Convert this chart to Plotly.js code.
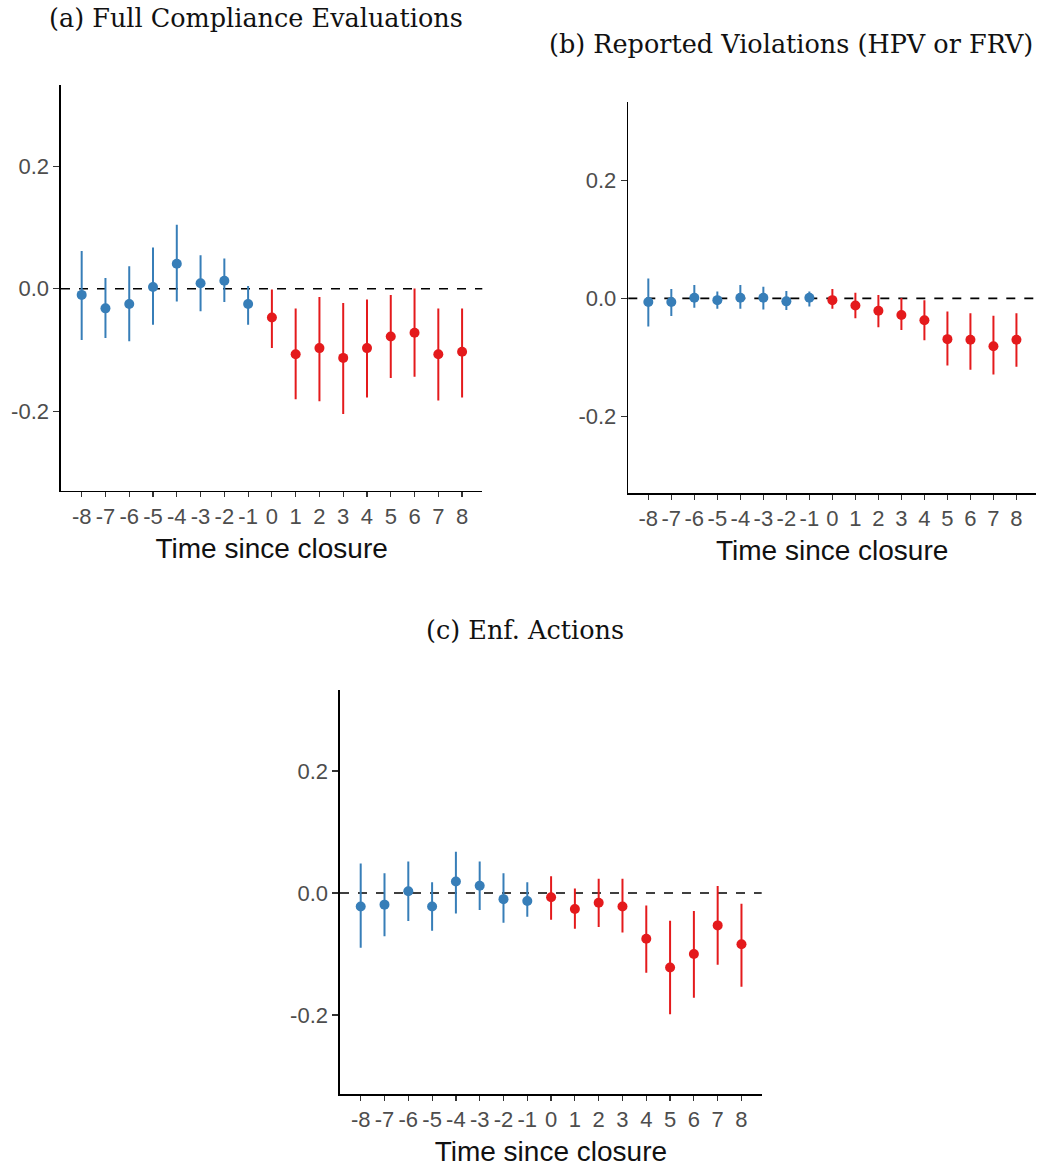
<!DOCTYPE html>
<html>
<head>
<meta charset="utf-8">
<script src="https://cdn.plot.ly/plotly-3.0.1.min.js"></script>
<style>html,body{margin:0;padding:0;background:#fff;}#chart{width:1056px;height:1168px;}</style>
</head>
<body>
<div id="chart"></div>
<script>
// ---- Data ----
const time = [-8,-7,-6,-5,-4,-3,-2,-1,0,1,2,3,4,5,6,7,8];
const tickLabels = ["-8","-7","-6","-5","-4","-3","-2","-1","0","1","2","3","4","5","6","7","8"];

// (a) Full Compliance Evaluations
const aEst = [-0.010,-0.032,-0.025,0.003,0.041,0.009,0.013,-0.025,-0.047,-0.107,-0.097,-0.113,-0.097,-0.078,-0.072,-0.107,-0.103];
const aLo  = [-0.082,-0.079,-0.084,-0.057,-0.019,-0.035,-0.020,-0.057,-0.095,-0.179,-0.182,-0.203,-0.176,-0.144,-0.142,-0.181,-0.176];
const aHi  = [0.060,0.016,0.035,0.066,0.103,0.053,0.048,0.003,-0.003,-0.034,-0.015,-0.025,-0.019,-0.012,-0.001,-0.034,-0.034];

// (b) Reported Violations (HPV or FRV)
const bEst = [-0.006,-0.006,0.001,-0.003,0.001,0.001,-0.005,0.001,-0.003,-0.012,-0.021,-0.028,-0.037,-0.069,-0.070,-0.081,-0.070];
const bLo  = [-0.046,-0.028,-0.014,-0.016,-0.016,-0.017,-0.018,-0.012,-0.016,-0.032,-0.047,-0.052,-0.069,-0.112,-0.119,-0.127,-0.114];
const bHi  = [0.032,0.014,0.021,0.010,0.021,0.018,0.011,0.010,0.014,0.008,0.004,-0.001,-0.005,-0.024,-0.027,-0.031,-0.027];

// (c) Enf. Actions
const cEst = [-0.022,-0.019,0.003,-0.022,0.019,0.012,-0.010,-0.013,-0.007,-0.026,-0.016,-0.022,-0.075,-0.122,-0.100,-0.053,-0.084];
const cLo  = [-0.088,-0.069,-0.044,-0.060,-0.032,-0.026,-0.047,-0.037,-0.042,-0.057,-0.054,-0.063,-0.129,-0.197,-0.170,-0.116,-0.152];
const cHi  = [0.047,0.031,0.050,0.016,0.066,0.050,0.031,0.016,0.026,0.006,0.022,0.022,-0.022,-0.047,-0.031,0.010,-0.019];

const panelTitles = ["(a) Full Compliance Evaluations","(b) Reported Violations (HPV or FRV)","(c) Enf. Actions"];
const xTitle = "Time since closure";
const yTickVals = [-0.2,0.0,0.2];
const yTickText = ["-0.2","0.0","0.2"];

// ---- Styles ----
const BLUE = "#377eb8", RED = "#e41a1c";
const panels = [
  {est:aEst, lo:aLo, hi:aHi, xa:"x",  ya:"y"},
  {est:bEst, lo:bLo, hi:bHi, xa:"x2", ya:"y2"},
  {est:cEst, lo:cLo, hi:cHi, xa:"x3", ya:"y3"}
];

const traces = [];
panels.forEach(p => {
  [[t => t < 0, BLUE], [t => t >= 0, RED]].forEach(([sel, col]) => {
    const idx = time.map((t,i)=>i).filter(i => sel(time[i]));
    traces.push({
      type: "scatter", mode: "markers",
      x: idx.map(i => time[i]),
      y: idx.map(i => p.est[i]),
      xaxis: p.xa, yaxis: p.ya,
      marker: {color: col, size: 10},
      error_y: {type: "data", symmetric: false,
        array: idx.map(i => p.hi[i] - p.est[i]),
        arrayminus: idx.map(i => p.est[i] - p.lo[i]),
        color: col, thickness: 2, width: 1},
      showlegend: false, hoverinfo: "skip"
    });
  });
});

const H = 1168, W = 1056;
function xd(l, r){ return [l/W, r/W]; }
function yd(t, b){ return [1 - b/H, 1 - t/H]; }

function xAxis(dom, anchor){
  return {
    domain: dom, anchor: anchor, range: [-8.87, 8.85],
    tickvals: time, ticktext: tickLabels,
    ticks: "outside", ticklen: 5, tickwidth: 1.2, tickcolor: "#333",
    showline: true, linecolor: "#000", linewidth: 1.6,
    showgrid: false, zeroline: false,
    tickfont: {family: "Liberation Sans, Arial, sans-serif", size: 22, color: "#4d4d4d"},
    title: {text: xTitle, font: {family: "Liberation Sans, Arial, sans-serif", size: 28, color: "#111"}, standoff: 10},
    fixedrange: true
  };
}
function yAxis(dom, anchor){
  return {
    domain: dom, anchor: anchor, range: [-0.33, 0.333],
    tickvals: yTickVals, ticktext: yTickText,
    ticks: "outside", ticklen: 6, tickwidth: 1.2, tickcolor: "#333",
    showline: true, linecolor: "#000", linewidth: 1.6,
    showgrid: false, zeroline: false,
    tickfont: {family: "Liberation Sans, Arial, sans-serif", size: 22, color: "#4d4d4d"},
    fixedrange: true
  };
}

const layout = {
  width: W, height: H,
  margin: {l:0, r:0, t:0, b:0},
  paper_bgcolor: "#fff", plot_bgcolor: "#fff",
  showlegend: false,
  xaxis:  xAxis(xd(61, 482.3), "y"),
  yaxis:  yAxis(yd(85, 490.7), "x"),
  xaxis2: xAxis(xd(628.3, 1036), "y2"),
  yaxis2: yAxis(yd(101.7, 493.3), "x2"),
  xaxis3: xAxis(xd(340, 761.7), "y3"),
  yaxis3: yAxis(yd(690, 1094.3), "x3"),
  shapes: [["x","y"],["x2","y2"],["x3","y3"]].map(([xa,ya]) => ({
    type: "line", layer: "below",
    xref: xa + " domain", x0: 0, x1: 1,
    yref: ya, y0: 0, y1: 0,
    line: {color: "#000", width: 1.6, dash: "dash"}
  })),
  annotations: [
    {text: panelTitles[0], x: 47/W, y: 1 - 18/H},
    {text: panelTitles[1], x: 547/W, y: 1 - 44/H},
    {text: panelTitles[2], x: 424/W, y: 1 - 630/H}
  ].map(a => Object.assign({
    xref: "paper", yref: "paper", xanchor: "left", yanchor: "middle",
    showarrow: false,
    font: {family: "DejaVu Serif, serif", size: 25.5, color: "#111"}
  }, a))
};

Plotly.newPlot("chart", traces, layout, {displayModeBar: false, staticPlot: true});
</script>
</body>
</html>
